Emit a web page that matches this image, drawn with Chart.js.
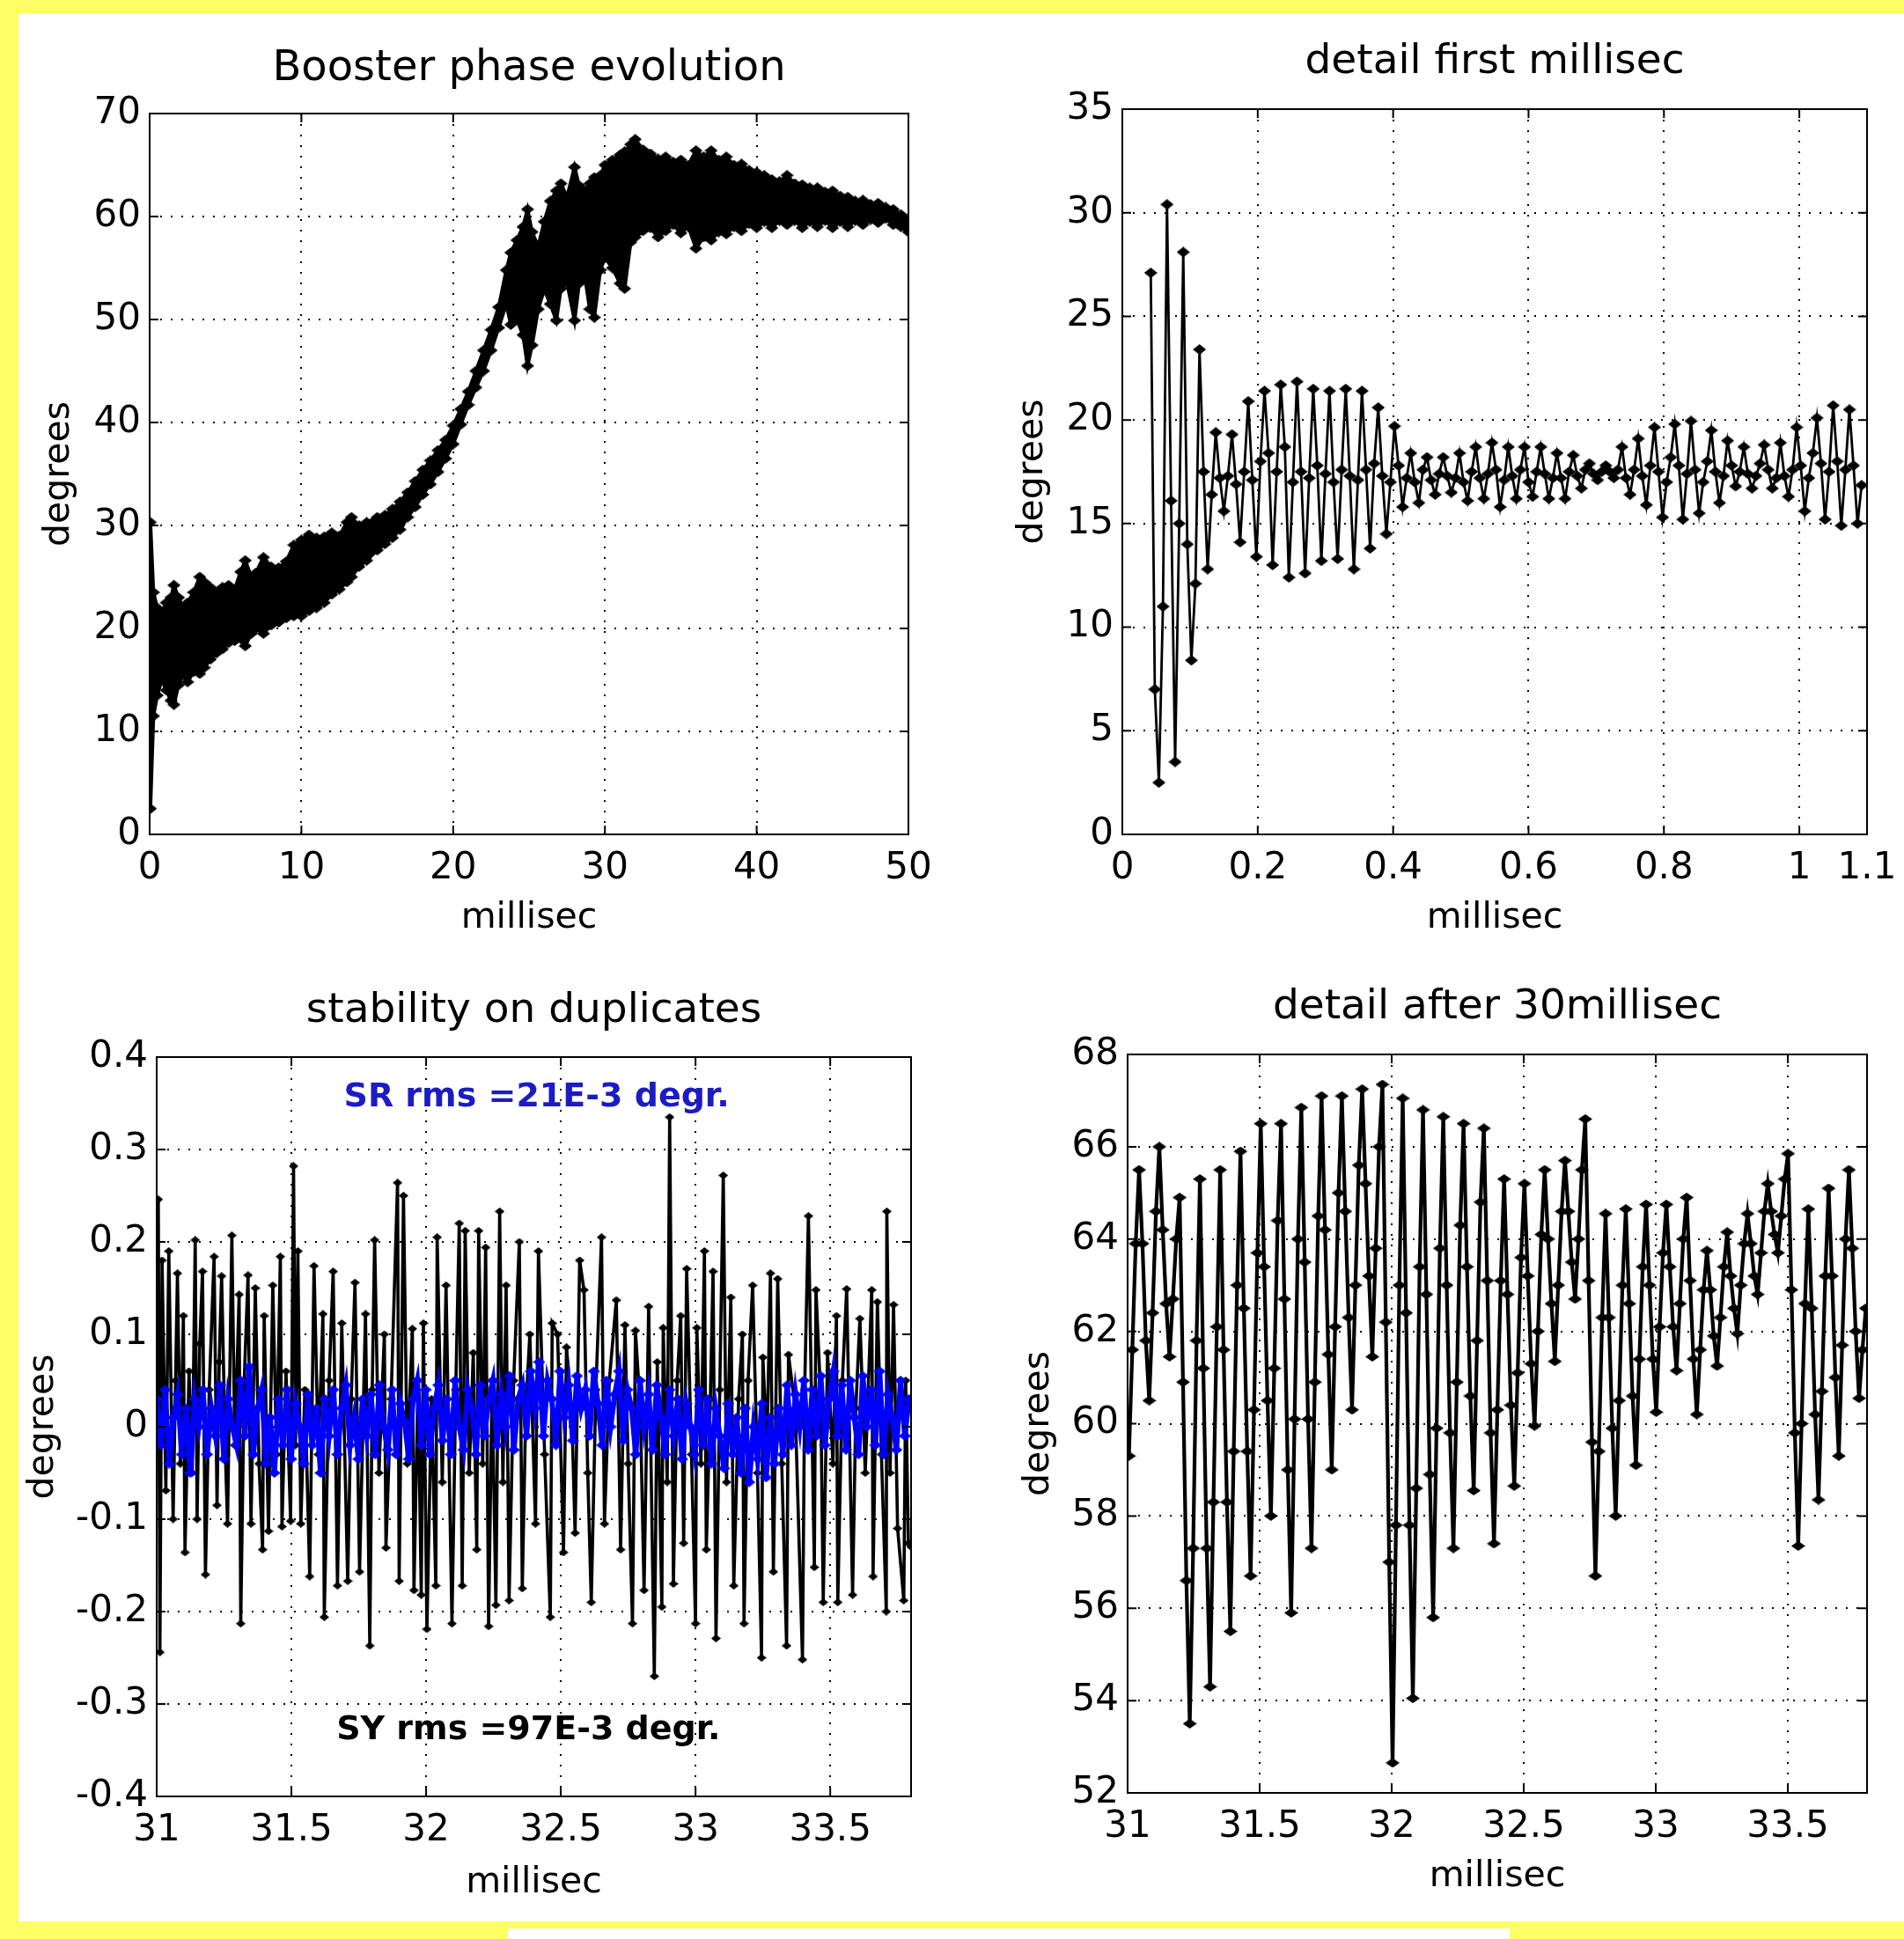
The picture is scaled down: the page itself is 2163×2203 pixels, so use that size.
<!DOCTYPE html>
<html>
<head>
<meta charset="utf-8">
<script src="https://cdn.jsdelivr.net/npm/chart.js@4.4.0/dist/chart.umd.min.js"></script>
<style>
  html, body { margin: 0; padding: 0; }
  body { width: 2163px; height: 2203px; background: #ffff66; position: relative; overflow: hidden; }
  .sheet { position: absolute; left: 21px; top: 15px; width: 2142px; height: 2168px; background: #fff; }
  .strip { position: absolute; left: 577px; top: 2191px; width: 1138px; height: 12px; background: #fff; }
  canvas { position: absolute; }
</style>
</head>
<body>
<div class="sheet"></div>
<div class="strip"></div>
<canvas id="g1" width="1062" height="1059" style="left:20px;top:19px"></canvas>
<canvas id="g2" width="1038" height="1064" style="left:1125px;top:14px"></canvas>
<canvas id="g3" width="1067" height="1080" style="left:18px;top:1091px"></canvas>
<canvas id="g4" width="1032" height="1079" style="left:1131px;top:1088px"></canvas>
<script>
// ---------- plot 1 : Booster phase evolution (envelope of the dense trace) ----------
const p1XTicks = [0, 10, 20, 30, 40, 50];
const p1YTicks = [0, 10, 20, 30, 40, 50, 60, 70];
const bandT = [0.05,0.25,0.5,0.8,1.1,1.4,1.6,1.9,2.2,2.5,
  2.9,3.3,3.6,4.0,4.4,4.8,5.2,5.6,6.0,6.3,
  6.7,7.0,7.5,8.0,8.5,9.0,9.5,10.0,10.5,11.0,
  11.5,12.0,12.5,13.0,13.3,13.8,14.3,15.0,15.5,16.0,
  16.5,17.0,17.5,18.0,18.5,19.0,19.5,20.0,20.5,21.0,
  21.5,22.0,22.5,23.0,23.5,23.8,24.2,24.6,24.9,25.2,
  25.6,26.0,26.4,26.8,27.1,27.5,28.0,28.3,28.7,29.0,
  29.3,29.7,30.0,30.5,31.0,31.3,31.7,32.0,32.5,33.0,
  33.5,34.0,34.5,35.0,35.5,36.0,36.5,37.0,37.5,38.0,
  38.5,39.0,39.5,40.0,40.5,41.0,41.5,42.0,42.5,43.0,
  43.5,44.0,44.5,45.0,45.5,46.0,46.5,47.0,47.5,48.0,
  48.5,49.0,49.5,50.0];
const bandHi = [30.3,23.5,22.0,21.5,22.5,23.0,24.2,23.0,22.0,22.5,
  23.5,25.0,24.5,24.0,23.5,24.0,24.2,23.8,25.5,26.6,
  25.0,25.4,26.9,26.0,25.9,26.5,28.1,28.6,29.1,28.8,
  28.9,29.3,29.0,30.3,30.8,30.0,30.3,30.8,31.0,31.6,
  32.3,33.2,34.3,35.4,36.3,37.3,38.3,39.7,41.3,43.0,
  45.0,47.0,49.0,51.2,54.8,56.5,57.7,59.0,60.7,58.5,
  57.1,59.5,61.5,62.5,63.2,61.9,64.8,63.0,62.5,63.2,
  63.8,64.0,65.0,65.5,66.0,66.3,67.0,67.5,66.5,66.1,
  65.6,65.8,65.3,65.5,65.0,66.4,65.8,66.4,65.5,65.8,
  65.0,65.1,64.5,64.3,64.0,63.6,63.4,64.0,63.2,63.1,
  62.8,62.8,62.4,62.5,62.0,61.9,61.5,61.6,61.2,61.3,
  60.9,60.7,60.2,59.8];
const bandLo = [2.5,11.5,13.5,15.0,14.0,13.0,12.6,14.5,15.5,14.8,
  15.8,15.6,16.2,17.0,17.6,18.0,18.6,18.8,19.0,18.3,
  19.5,20.0,19.5,20.3,20.6,21.0,21.2,21.2,21.7,22.0,
  22.5,23.3,23.8,24.5,25.0,26.0,26.6,27.6,28.2,28.8,
  29.6,30.8,31.8,33.0,34.0,35.2,36.5,37.9,39.8,41.7,
  43.4,45.0,47.0,49.2,51.5,49.5,50.0,48.5,45.5,47.5,
  51.0,52.9,51.5,49.9,53.0,53.6,49.9,53.5,54.0,51.0,
  50.2,54.8,56.0,55.0,53.5,53.0,57.5,58.0,58.6,58.9,
  58.0,58.6,59.2,58.4,59.0,56.9,58.0,57.7,58.5,58.3,
  59.0,58.6,59.3,58.9,59.5,58.9,59.6,59.2,59.6,58.9,
  59.5,59.0,59.6,58.9,59.5,59.0,59.6,59.2,59.7,59.4,
  59.8,59.2,59.0,58.5];

// ---------- plot 2 : detail first millisec ----------
const p2XTicks = [0, 0.2, 0.4, 0.6, 0.8, 1, 1.1];
const p2YTicks = [0, 5, 10, 15, 20, 25, 30, 35];
const p2Start = 0.042;   // ms, first sample
const p2Step = 0.006;    // ms between samples
const p2Phase = [
  27.1, 7.0, 2.5, 11.0,  30.4, 16.1, 3.5, 15.0,  28.1, 14.0, 8.4, 12.1,  23.4, 17.5, 12.8, 16.4,
  19.4, 17.2, 15.6, 17.3,  19.3, 16.9, 14.1, 17.5,  20.9, 17.1, 13.4, 18.0,  21.4, 18.4, 13.0, 17.5,
  21.7, 18.7, 12.4, 17.0,  21.85, 17.5, 12.6, 17.2,  21.5, 17.8, 13.2, 17.4,  21.4, 17.0, 13.3, 17.6,
  21.5, 17.3, 12.8, 17.1,  21.4, 17.6, 13.8, 17.9,  20.6, 17.3, 14.5, 17.0,  19.7, 17.8, 15.8, 17.2,
  18.4, 17.0, 16.0, 17.6,  18.2, 17.1, 16.4, 17.4,  18.2, 17.3, 16.5, 17.2,  18.4, 17.0, 16.1, 17.5,
  18.7, 17.2, 16.2, 17.4,  18.9, 17.6, 15.8, 17.1,  18.7, 17.3, 16.2, 17.6,  18.7, 17.0, 16.3, 17.5,
  18.7, 17.4, 16.2, 17.2,  18.4, 17.2, 16.2, 17.5,  18.3, 17.3, 16.7, 17.6,  17.9, 17.4, 17.1, 17.5,
  17.8, 17.5, 17.2, 17.6,  18.7, 17.2, 16.4, 17.6,  19.1, 17.3, 15.9, 17.8,
  19.65, 17.5, 15.3, 17.0, 18.2,  19.8, 17.8, 15.2, 17.4,  19.95, 17.6, 15.5, 17.0, 18.0,
  19.5, 17.5, 16.0, 17.3,  19.0, 17.8, 16.8, 17.5,  18.7, 17.4, 16.7, 17.3, 17.9,
  18.8, 17.6, 16.7, 17.2,  18.9, 17.3, 16.3, 17.6,  19.65, 17.8, 15.6, 17.2, 18.4,
  20.1, 17.9, 15.2, 17.5,  20.7, 18.0, 14.9, 17.6,  20.5, 17.8, 15.0, 16.85
];

// ---------- plot 3 : stability on duplicates ----------
const p3XTicks = [31, 31.5, 32, 32.5, 33, 33.5];
const p3YTicks = [-0.4, -0.3, -0.2, -0.1, 0, 0.1, 0.2, 0.3, 0.4];
const syTime = [31.000,31.006,31.012,31.020,31.034,31.045,31.061,31.070,31.077,31.088,
  31.099,31.105,31.120,31.132,31.143,31.150,31.160,31.170,31.181,31.195,
  31.213,31.224,31.232,31.241,31.255,31.263,31.279,31.290,31.306,31.312,
  31.325,31.339,31.350,31.366,31.380,31.393,31.399,31.415,31.431,31.445,
  31.459,31.465,31.480,31.497,31.508,31.515,31.524,31.535,31.550,31.568,
  31.584,31.600,31.617,31.622,31.640,31.655,31.671,31.687,31.709,31.722,
  31.736,31.753,31.775,31.791,31.800,31.809,31.825,31.845,31.851,31.870,
  31.894,31.900,31.916,31.930,31.949,31.955,31.970,31.982,31.990,32.003,
  32.020,32.036,32.041,32.060,32.074,32.096,32.110,32.123,32.134,32.145,
  32.160,32.175,32.188,32.195,32.210,32.221,32.232,32.245,32.259,32.273,
  32.285,32.297,32.308,32.325,32.346,32.357,32.370,32.385,32.406,32.417,
  32.440,32.461,32.468,32.488,32.510,32.521,32.540,32.553,32.570,32.586,
  32.600,32.613,32.630,32.651,32.662,32.680,32.706,32.722,32.738,32.750,
  32.766,32.777,32.795,32.809,32.826,32.847,32.858,32.875,32.880,32.895,
  32.904,32.918,32.932,32.945,32.956,32.967,32.985,33.000,33.005,33.020,
  33.033,33.040,33.055,33.065,33.076,33.090,33.103,33.115,33.131,33.142,
  33.160,33.174,33.180,33.195,33.212,33.230,33.245,33.250,33.265,33.278,
  33.289,33.305,33.320,33.338,33.345,33.370,33.397,33.405,33.419,33.441,
  33.447,33.465,33.474,33.490,33.510,33.523,33.528,33.545,33.561,33.583,
  33.595,33.610,33.630,33.654,33.659,33.675,33.690,33.708,33.710,33.722,
  33.735,33.750,33.773,33.780,33.790,33.800];
const syValue = [0.02,0.246,-0.244,0.18,-0.069,0.19,-0.1,0.05,0.166,-0.04,
  0.12,-0.136,0.06,-0.05,0.202,-0.1,0.09,0.168,-0.16,0.04,
  0.184,-0.085,0.07,0.163,-0.03,-0.105,0.207,-0.02,0.143,-0.213,
  0.05,0.164,-0.105,0.15,-0.04,-0.133,0.12,-0.113,0.153,-0.03,
  0.184,-0.108,0.06,-0.102,0.282,-0.02,0.19,-0.105,0.04,-0.162,
  0.174,-0.03,0.122,-0.206,0.05,0.168,-0.172,0.112,-0.167,0.03,
  0.156,-0.157,0.122,-0.237,0.04,0.202,-0.05,0.1,-0.131,0.03,
  0.264,-0.167,0.25,-0.04,0.106,-0.177,0.05,-0.182,0.112,-0.219,
  0.03,-0.172,0.205,-0.06,0.153,-0.213,0.04,0.22,-0.172,0.212,
  -0.05,0.08,-0.133,0.212,-0.04,0.194,-0.216,0.05,-0.193,0.233,
  -0.06,0.153,-0.188,0.05,0.2,-0.175,0.02,0.1,-0.105,0.19,
  -0.03,-0.206,0.112,0.1,-0.136,0.086,0.02,-0.115,0.18,0.148,
  -0.05,-0.19,0.04,0.205,-0.105,0.05,0.137,-0.133,0.11,-0.04,
  -0.213,0.104,0.02,-0.177,0.13,-0.27,0.07,-0.195,0.107,-0.06,
  0.335,-0.17,0.05,0.12,-0.126,0.171,-0.03,-0.213,0.107,-0.04,
  0.19,-0.133,0.03,0.168,-0.229,0.04,0.272,-0.06,0.14,-0.172,
  0.03,0.1,-0.213,0.05,0.153,-0.05,-0.25,0.075,-0.02,0.166,
  -0.157,0.16,-0.04,-0.237,0.078,0.02,-0.252,0.04,0.228,-0.152,
  0.148,0.03,-0.19,0.08,-0.04,0.12,-0.19,0.05,0.149,-0.182,
  0.02,0.117,-0.05,0.148,-0.162,0.135,-0.03,-0.2,0.233,-0.05,
  0.132,-0.11,-0.188,0.05,-0.126,-0.13];
const srStart = 31.0;
const srStep = 0.0156;
const srValue = [
  0.03,-0.02,0.04,-0.04,0.01,0.035,-0.03,0.02,-0.05,0.03,
  0.00,0.04,-0.03,0.02,-0.01,0.045,-0.035,0.03,0.0,-0.02,
  0.05,-0.01,0.065,-0.03,0.02,0.04,-0.04,0.01,-0.05,0.03,
  -0.02,0.04,-0.035,0.025,0.0,-0.04,0.035,-0.02,0.02,-0.05,
  0.03,-0.01,0.04,-0.03,0.02,0.045,-0.02,0.01,-0.035,0.03,
  -0.01,0.035,-0.03,0.045,0.0,-0.025,0.04,-0.03,0.025,0.005,
  -0.035,0.03,0.05,-0.02,0.04,-0.03,0.02,0.045,-0.015,0.03,
  -0.03,0.05,0.0,-0.025,0.04,0.02,-0.03,0.045,-0.01,0.03,
  0.05,-0.02,0.035,0.0,0.055,-0.025,0.03,0.045,-0.01,0.06,
  0.02,0.07,-0.01,0.05,0.03,-0.02,0.06,0.01,0.045,-0.015,
  0.055,0.02,0.04,-0.01,0.06,0.025,-0.02,0.05,0.0,0.035,
  0.06,-0.015,0.04,0.02,-0.03,0.05,0.0,0.035,-0.025,0.045,
  0.01,-0.03,0.04,-0.01,0.03,-0.035,0.025,0.0,-0.03,0.04,
  -0.02,0.03,-0.04,0.02,-0.01,-0.045,0.025,-0.03,0.01,-0.05,
  0.02,-0.06,0.0,-0.035,0.025,-0.055,0.01,-0.04,0.02,-0.03,
  0.045,-0.02,0.035,0.0,0.05,-0.025,0.04,-0.01,0.055,-0.02,
  0.03,0.06,-0.01,0.045,-0.025,0.05,0.01,-0.03,0.055,0.0,
  0.04,-0.02,0.06,-0.03,0.035,0.01,-0.025,0.05,-0.01,0.03
];
const noteText = ['SR rms =21E-3 degr.', 'SY rms =97E-3 degr.'];
const noteX = [32.41, 32.38];
const noteY = [0.356, -0.329];
const noteColor = ['#1c1cc4', '#000000'];

// ---------- plot 4 : detail after 30millisec ----------
const p4XTicks = [31, 31.5, 32, 32.5, 33, 33.5];
const p4YTicks = [52, 54, 56, 58, 60, 62, 64, 66, 68];
const p4Start = 31.005;
const p4Step = 0.0128;
const p4Phase = [
  59.3,61.6,63.9, 65.5,63.9,61.8, 60.5,62.4,64.6, 66.0,64.2,62.6, 61.45,62.7,64.0,
  64.9,60.9,56.6, 53.5,57.3,61.8, 65.3,61.2,57.3, 54.3,58.3,62.1, 65.5,61.6,58.3,
  55.5,59.4,63.0, 65.9,62.5,59.4, 56.7,60.3,63.7, 66.5,63.4,60.5, 58.0,61.2,64.4,
  66.5,62.7,59.0, 55.9,60.1,64.0, 66.85,63.5,60.1, 57.3,60.9,64.5, 67.1,64.2,61.5,
  59.0,62.1,65.0, 67.1,64.6,62.3, 60.3,63.0,65.6, 67.25,65.2,63.2, 61.45,63.8,66.0,
  67.35,62.2,57.0, 52.65,57.8,63.0, 67.05,62.4,57.8, 54.05,58.6,63.4, 66.8,62.8,58.9,
  55.8,59.9,63.8, 66.65,63.0,59.8, 57.3,60.9,64.3, 66.5,63.4,60.6, 58.55,61.8,64.8,
  66.4,63.1,59.8, 57.4,60.3,63.1, 65.3,62.8,60.4, 58.65,61.1,63.6, 65.2,63.2,61.3,
  59.95,62.0,64.1, 65.5,64.0,62.6, 61.35,63.0,64.6, 65.7,64.6,63.5, 62.7,64.0,65.5,
  66.6,63.1,59.6, 56.7,59.4,62.3, 64.55,62.3,59.9, 58.0,60.5,63.0, 64.65,62.6,60.6,
  59.1,61.4,63.4, 64.75,63.0,61.4, 60.25,62.1,63.7, 64.75,63.4,62.1, 61.15,62.6,64.0,
  64.9,63.1,61.4, 60.2,61.6,62.9, 63.75,62.9,61.9, 61.25,62.3,63.4, 64.15,63.2,62.5,
  61.95,63.0,63.9, 64.55,63.9,63.2, 62.8,63.7,64.6, 65.2,64.6,64.1, 63.7,64.5,65.3,
  65.85,62.9,59.8, 57.35,60.0,62.6, 64.65,62.5,60.2, 58.35,60.7,63.2, 65.1,63.2,61.0,
  59.3,61.7,64.0, 65.5,63.8,62.0, 60.55,61.6,62.5
];

// ---------- drawing ----------
const FONT = '"DejaVu Sans", "Liberation Sans", sans-serif';
Chart.defaults.font.family = FONT;
Chart.defaults.color = '#000';

function diamond(color, w, h) {
  const c = document.createElement('canvas');
  c.width = w; c.height = h;
  const g = c.getContext('2d');
  g.fillStyle = color;
  g.beginPath();
  g.moveTo(w / 2, 0); g.lineTo(w, h / 2); g.lineTo(w / 2, h); g.lineTo(0, h / 2);
  g.closePath(); g.fill();
  return c;
}
const mkBig = diamond('#000', 15, 12);
const mkFlat = diamond('#000', 16, 11);
const mkSmall = diamond('#000', 11, 9);
const mkBlue = diamond('#0000ff', 14, 11);

// box round the axes with matlab style inward ticks
const frame = {
  id: 'frame',
  afterDatasetsDraw(chart) {
    const { ctx, chartArea: a, scales } = chart;
    ctx.save();
    ctx.strokeStyle = '#000';
    ctx.lineWidth = 2;
    ctx.beginPath();
    scales.x.ticks.forEach(t => {
      const p = scales.x.getPixelForValue(t.value);
      ctx.moveTo(p, a.bottom); ctx.lineTo(p, a.bottom - 10);
      ctx.moveTo(p, a.top); ctx.lineTo(p, a.top + 10);
    });
    scales.y.ticks.forEach(t => {
      const p = scales.y.getPixelForValue(t.value);
      ctx.moveTo(a.left, p); ctx.lineTo(a.left + 10, p);
      ctx.moveTo(a.right, p); ctx.lineTo(a.right - 10, p);
    });
    ctx.stroke();
    ctx.strokeRect(a.left, a.top, a.right - a.left, a.bottom - a.top);
    ctx.restore();
  }
};

const notes = {
  id: 'notes',
  afterDatasetsDraw(chart) {
    const { ctx, scales } = chart;
    ctx.save();
    ctx.font = 'bold 38px ' + FONT;
    ctx.textAlign = 'center';
    ctx.textBaseline = 'middle';
    noteText.forEach((txt, i) => {
      ctx.fillStyle = noteColor[i];
      ctx.fillText(txt, scales.x.getPixelForValue(noteX[i]), scales.y.getPixelForValue(noteY[i]));
    });
    ctx.restore();
  }
};

function axis(min, max, ticks, label, isX, size, titlePad) {
  return {
    type: 'linear', min: min, max: max,
    afterBuildTicks: s => { s.ticks = ticks.map(v => ({ value: v })); },
    afterFit: s => {
      if (isX) s.height = size; else s.width = size;
      s.paddingLeft = 0; s.paddingRight = 0; s.paddingTop = 0; s.paddingBottom = 0;
    },
    ticks: { autoSkip: false, maxRotation: 0, padding: isX ? 14 : 10, color: '#000',
             font: { size: 42 }, callback: v => String(v) },
    grid: { color: '#000', lineWidth: 2, drawTicks: false },
    border: { display: false, dash: [2, 10] },
    title: { display: true, text: label, color: '#000', font: { size: 41 },
             padding: isX ? { top: 0, bottom: titlePad } : { top: titlePad, bottom: 0 } }
  };
}

function trace(points, color, marker, width) {
  return { data: points, borderColor: color, backgroundColor: color, borderWidth: width,
           pointStyle: marker, pointRadius: 5, pointHoverRadius: 5, fill: false, tension: 0 };
}

function plot(id, o) {
  const lh = o.titleSize * 1.2;
  return new Chart(document.getElementById(id), {
    type: 'line',
    data: { datasets: o.datasets },
    options: {
      responsive: false, animation: false, devicePixelRatio: 1,
      events: [],
      layout: { padding: { left: 0, top: 0, right: o.rightPad, bottom: 0 } },
      plugins: {
        legend: { display: false },
        tooltip: { enabled: false },
        title: { display: true, text: o.title, color: '#000', fullSize: false,
                 font: { size: o.titleSize, weight: 'normal' },
                 padding: { top: o.titleTop, bottom: 110 - lh - o.titleTop } }
      },
      scales: {
        x: axis(o.xMin, o.xMax, o.xTicks, 'millisec', true, 130, o.xTitlePad),
        y: axis(o.yMin, o.yMax, o.yTicks, 'degrees', false, o.yWidth, o.yTitlePad)
      }
    },
    plugins: [frame].concat(o.extra || [])
  });
}

const hiPts = bandT.map((t, i) => ({ x: t, y: bandHi[i] }));
const loPts = bandT.map((t, i) => ({ x: t, y: bandLo[i] }));
const upper = trace(hiPts, '#000', mkBig, 4);
upper.fill = '+1';
plot('g1', {
  title: 'Booster phase evolution', titleSize: 48, titleTop: 30.5,
  xMin: 0, xMax: 50, xTicks: p1XTicks, yMin: 0, yMax: 70, yTicks: p1YTicks,
  yWidth: 150, yTitlePad: 22.4, xTitlePad: 10.4, rightPad: 50,
  datasets: [upper, trace(loPts, '#000', mkBig, 4)]
});

plot('g2', {
  title: 'detail first millisec', titleSize: 47, titleTop: 28.3,
  xMin: 0, xMax: 1.1, xTicks: p2XTicks, yMin: 0, yMax: 35, yTicks: p2YTicks,
  yWidth: 150, yTitlePad: 23.4, xTitlePad: 10.4, rightPad: 42,
  datasets: [trace(p2Phase.map((v, i) => ({ x: p2Start + i * p2Step, y: v })), '#000', mkBig, 2.8)]
});

const sy = trace(syTime.map((t, i) => ({ x: t, y: syValue[i] })), '#000', mkSmall, 3.6);
sy.order = 2;
const sr = trace(srValue.map((v, i) => ({ x: srStart + i * srStep, y: v })), '#0000ff', mkBlue, 6);
sr.order = 1;
plot('g3', {
  title: 'stability on duplicates', titleSize: 47, titleTop: 30,
  xMin: 31, xMax: 33.8, xTicks: p3XTicks, yMin: -0.4, yMax: 0.4, yTicks: p3YTicks,
  yWidth: 160, yTitlePad: 6.4, xTitlePad: 7.4, rightPad: 50,
  datasets: [sy, sr], extra: [notes]
});

plot('g4', {
  title: 'detail after 30millisec', titleSize: 47, titleTop: 29,
  xMin: 31, xMax: 33.8, xTicks: p4XTicks, yMin: 52, yMax: 68, yTicks: p4YTicks,
  yWidth: 150, yTitlePad: 24.4, xTitlePad: 10.4, rightPad: 42,
  datasets: [trace(p4Phase.map((v, i) => ({ x: p4Start + i * p4Step, y: v })), '#000', mkFlat, 4.2)]
});
</script>
</body>
</html>
